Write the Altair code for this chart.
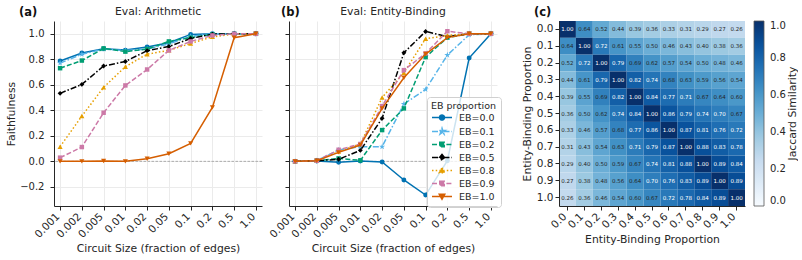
import altair as alt
import pandas as pd

FONT = "DejaVu Sans"
INK = "#262626"
GRID = "#ebebeb"
TICK_FS = 10
XTICK_FS = 10.5
TITLE_FS = 10.8

# Plot-area geometry (pixels)
PANEL_W = 208
HEAT_W = 186
PANEL_H = 185
GAP = 27
SPACER_W = 8

# Circuit sizes (fraction of edges kept), shown as evenly spaced categories
CIRCUIT_SIZES = ["0.001", "0.002", "0.005", "0.01", "0.02", "0.05", "0.1", "0.2", "0.5", "1.0"]
Y_TICKS = [-0.2, 0.0, 0.2, 0.4, 0.6, 0.8, 1.0]

EB_LABELS = ["EB=0.0", "EB=0.1", "EB=0.2", "EB=0.5", "EB=0.8", "EB=0.9", "EB=1.0"]
EB_COLORS = ["#0072B2", "#56B4E9", "#009E73", "#000000", "#E69F00", "#CC79A7", "#D55E00"]

# Faithfulness, evaluated on arithmetic prompts
arith_eb00 = [0.786, 0.849, 0.883, 0.872, 0.896, 0.930, 0.995, 1.000, 1.000, 1.000]
arith_eb01 = [0.770, 0.840, 0.880, 0.868, 0.880, 0.920, 0.980, 1.000, 1.000, 1.000]
arith_eb02 = [0.730, 0.790, 0.885, 0.860, 0.880, 0.940, 0.970, 0.995, 1.000, 1.000]
arith_eb05 = [0.533, 0.603, 0.747, 0.783, 0.867, 0.900, 0.963, 0.997, 1.000, 1.000]
arith_eb08 = [0.115, 0.355, 0.580, 0.742, 0.840, 0.870, 0.924, 0.976, 0.997, 1.000]
arith_eb09 = [0.029, 0.112, 0.381, 0.595, 0.720, 0.870, 0.940, 0.987, 1.000, 1.000]
arith_eb10 = [0.000, 0.000, 0.003, 0.000, 0.020, 0.060, 0.141, 0.423, 0.969, 1.000]

# Faithfulness, evaluated on entity-binding prompts
bind_eb00 = [0.000, 0.003, -0.008, 0.003, -0.005, -0.146, -0.264, 0.005, 0.810, 1.000]
bind_eb01 = [0.000, 0.005, 0.089, 0.115, 0.115, 0.449, 0.564, 0.833, 0.992, 1.000]
bind_eb02 = [0.000, 0.005, 0.023, 0.008, 0.245, 0.415, 0.817, 0.970, 1.000, 1.000]
bind_eb05 = [0.000, 0.005, 0.016, 0.086, 0.337, 0.851, 1.018, 0.977, 1.000, 1.000]
bind_eb08 = [0.000, 0.005, 0.076, 0.136, 0.500, 0.695, 0.961, 0.987, 1.000, 1.000]
bind_eb09 = [0.000, 0.005, 0.091, 0.136, 0.433, 0.715, 0.846, 1.020, 1.000, 1.000]
bind_eb10 = [0.000, 0.005, 0.070, 0.128, 0.415, 0.655, 0.841, 0.970, 1.000, 1.000]

# Jaccard similarity between circuits found at each entity-binding proportion
EB_PROPS = ["0.0", "0.1", "0.2", "0.3", "0.4", "0.5", "0.6", "0.7", "0.8", "0.9", "1.0"]
jac_00 = [1.00, 0.64, 0.52, 0.44, 0.39, 0.36, 0.33, 0.31, 0.29, 0.27, 0.26]
jac_01 = [0.64, 1.00, 0.72, 0.61, 0.55, 0.50, 0.46, 0.43, 0.40, 0.38, 0.36]
jac_02 = [0.52, 0.72, 1.00, 0.79, 0.69, 0.62, 0.57, 0.54, 0.50, 0.48, 0.46]
jac_03 = [0.44, 0.61, 0.79, 1.00, 0.82, 0.74, 0.68, 0.63, 0.59, 0.56, 0.54]
jac_04 = [0.39, 0.55, 0.69, 0.82, 1.00, 0.84, 0.77, 0.71, 0.67, 0.64, 0.60]
jac_05 = [0.36, 0.50, 0.62, 0.74, 0.84, 1.00, 0.86, 0.79, 0.74, 0.70, 0.67]
jac_06 = [0.33, 0.46, 0.57, 0.68, 0.77, 0.86, 1.00, 0.87, 0.81, 0.76, 0.72]
jac_07 = [0.31, 0.43, 0.54, 0.63, 0.71, 0.79, 0.87, 1.00, 0.88, 0.83, 0.78]
jac_08 = [0.29, 0.40, 0.50, 0.59, 0.67, 0.74, 0.81, 0.88, 1.00, 0.89, 0.84]
jac_09 = [0.27, 0.38, 0.48, 0.56, 0.64, 0.70, 0.76, 0.83, 0.89, 1.00, 0.89]
jac_10 = [0.26, 0.36, 0.46, 0.54, 0.60, 0.67, 0.72, 0.78, 0.84, 0.89, 1.00]
JACCARD = [jac_00, jac_01, jac_02, jac_03, jac_04, jac_05, jac_06, jac_07, jac_08, jac_09, jac_10]

# matplotlib "Blues" colour stops
BLUES_STOPS = [0.0, 0.125, 0.25, 0.375, 0.5, 0.625, 0.75, 0.875, 1.0]
BLUES = ["#f7fbff", "#deebf7", "#c6dbef", "#9ecae1", "#6baed6", "#4292c6", "#2171b5", "#08519c", "#08306b"]

# Line and marker styles per series
STAR = ("M0,-1L0.223,-0.307L0.951,-0.309L0.361,0.117L0.588,0.809L0,0.38"
        "L-0.588,0.809L-0.361,0.117L-0.951,-0.309L-0.223,-0.307Z")
EB_DASHES = [[1, 0], [6, 2, 1.5, 2], [5, 2.2], [6, 2, 1.5, 2], [1.5, 2.2], [5, 2.2], [1, 0]]
EB_SHAPES = ["circle", STAR, "square", "diamond", "triangle-up", "square", "triangle-down"]
EB_SIZES = [24, 42, 20, 24, 26, 20, 26]

# Legend glyphs: a short line segment with the marker in its middle
SEG = "M-1,0H3"
LEGEND_GLYPHS = [
    SEG + "M0.5,0A0.5,0.5,0,1,1,1.5,0A0.5,0.5,0,1,1,0.5,0Z",
    SEG + "M1,-0.65L1.145,-0.2L1.618,-0.201L1.235,0.076L1.382,0.526L1,0.247"
          "L0.618,0.526L0.765,0.076L0.382,-0.201L0.855,-0.2Z",
    SEG + "M0.55,-0.45H1.45V0.45H0.55Z",
    SEG + "M1,-0.6L1.5,0L1,0.6L0.5,0Z",
    SEG + "M1,-0.55L1.55,0.45L0.45,0.45Z",
    SEG + "M0.55,-0.45H1.45V0.45H0.55Z",
    SEG + "M1,0.55L1.55,-0.45L0.45,-0.45Z",
]

# Legends are placed in the coordinates of the first panel's plot area
B_LEFT = PANEL_W + GAP
C_LEFT = 2 * PANEL_W + 3 * GAP + SPACER_W


def text_layer(text, dx, dy, bold=True, size=11.5, angle=0, align="left"):
    return alt.Chart(pd.DataFrame({"t": [text]})).mark_text(
        align=align, baseline="middle", font=FONT, fontSize=size, angle=angle,
        fontWeight="bold" if bold else "normal", color="#111111" if bold else INK,
    ).encode(text="t:N", x=alt.value(dx), y=alt.value(dy))


def faithfulness_panel(series, title, tag, tag_dx, first):
    x_axis = alt.Axis(
        title="Circuit Size (fraction of edges)", labelAngle=-45, labelAlign="right",
        labelBaseline="top", labelPadding=1, labelOffset=-6, tickSize=4, grid=True,
        gridColor=GRID, titlePadding=3, labelFontSize=XTICK_FS, titleFontSize=TITLE_FS,
    )
    y_axis = alt.Axis(
        title="Faithfulness" if first else "", labels=first, values=Y_TICKS,
        labelExpr="replace(format(datum.value, '.1f'), '-', '\u2212')",
        tickSize=4, labelPadding=6, titlePadding=3, grid=True, gridColor=GRID,
        labelFontSize=TICK_FS, titleFontSize=TITLE_FS,
    )
    x = alt.X("size:O", sort=CIRCUIT_SIZES,
              scale=alt.Scale(type="point", padding=0.28, domain=CIRCUIT_SIZES), axis=x_axis)
    y = alt.Y("val:Q", scale=alt.Scale(domain=[-0.35, 1.1], nice=False, zero=False), axis=y_axis)

    layers = [
        alt.Chart(pd.DataFrame({"val": [0.0]})).mark_rule(
            color="#9a9a9a", strokeWidth=0.8, strokeDash=[2.5, 1.5]
        ).encode(y=y)
    ]
    for lab, vals, color, dash, shape, size in zip(
        EB_LABELS, series, EB_COLORS, EB_DASHES, EB_SHAPES, EB_SIZES
    ):
        df = pd.DataFrame({"size": CIRCUIT_SIZES, "val": vals, "eb": lab})
        base = alt.Chart(df).encode(x=x, y=y)
        line_kw = dict(color=color, strokeWidth=1.5)
        if dash != [1, 0]:
            line_kw["strokeDash"] = dash
        layers.append(base.mark_line(**line_kw))
        layers.append(base.mark_point(shape=shape, size=size, filled=True, opacity=1,
                                      color=color, strokeWidth=0.5))

    if not first:
        leg = dict(
            title="EB proportion", orient="none", legendX=B_LEFT + 138, legendY=76,
            symbolSize=100, symbolStrokeWidth=1.5, symbolOpacity=1, labelOffset=16,
            labelFontSize=9.5, titleFontSize=9.5, titleFontWeight="normal",
            padding=4, rowPadding=1, titlePadding=1,
            fillColor="rgba(255,255,255,0.8)", strokeColor="#d0d0d0", cornerRadius=3,
        )
        legend_df = pd.DataFrame({"eb": EB_LABELS})
        layers.append(
            alt.Chart(legend_df).mark_point(opacity=0).encode(
                fill=alt.Fill("eb:N", scale=alt.Scale(domain=EB_LABELS, range=EB_COLORS),
                              legend=alt.Legend(**leg)),
                stroke=alt.Stroke("eb:N", scale=alt.Scale(domain=EB_LABELS, range=EB_COLORS),
                                  legend=alt.Legend(**leg)),
                shape=alt.Shape("eb:N", scale=alt.Scale(domain=EB_LABELS, range=LEGEND_GLYPHS),
                                legend=alt.Legend(**leg)),
                strokeDash=alt.StrokeDash("eb:N", scale=alt.Scale(domain=EB_LABELS, range=EB_DASHES),
                                          legend=alt.Legend(**leg)),
            )
        )
    layers.append(text_layer(tag, tag_dx, -8))

    return alt.layer(*layers).properties(
        width=PANEL_W, height=PANEL_H,
        title=alt.Title(title, fontSize=TITLE_FS, fontWeight="normal", font=FONT, color=INK,
                        offset=-10, frame="group", anchor="middle"),
    )


panel_a = faithfulness_panel(
    [arith_eb00, arith_eb01, arith_eb02, arith_eb05, arith_eb08, arith_eb09, arith_eb10],
    "Eval: Arithmetic", "(a)", -35, True,
)
panel_b = faithfulness_panel(
    [bind_eb00, bind_eb01, bind_eb02, bind_eb05, bind_eb08, bind_eb09, bind_eb10],
    "Eval: Entity-Binding", "(b)", -8, False,
)

# Heatmap of circuit overlap
heat_df = pd.DataFrame(
    [{"row": r, "col": c, "v": JACCARD[i][j]}
     for i, r in enumerate(EB_PROPS) for j, c in enumerate(EB_PROPS)]
)
hx = alt.X("col:O", sort=EB_PROPS, scale=alt.Scale(paddingInner=0, paddingOuter=0),
           axis=alt.Axis(title="Entity-Binding Proportion", labelAngle=-45, labelAlign="right",
                         labelBaseline="top", labelPadding=1, labelOffset=-6, tickSize=4,
                         titlePadding=3, labelFontSize=XTICK_FS, titleFontSize=TITLE_FS))
hy = alt.Y("row:O", sort=EB_PROPS, scale=alt.Scale(paddingInner=0, paddingOuter=0),
           axis=alt.Axis(title="Entity-Binding Proportion", tickSize=4, labelPadding=2,
                         titlePadding=4, labelFontSize=XTICK_FS, titleFontSize=TITLE_FS))

colorbar = alt.Legend(
    title="", orient="none", legendX=C_LEFT + HEAT_W + 9, legendY=0,
    direction="vertical", padding=0, titlePadding=0, titleFontSize=1,
    gradientLength=PANEL_H, gradientThickness=10,
    values=[0.0, 0.2, 0.4, 0.6, 0.8, 1.0], format=".1f",
    labelFontSize=TICK_FS, labelOffset=6, labelBaseline="middle",
    gradientStrokeColor="#555555", gradientStrokeWidth=0.8,
)

heat_base = alt.Chart(heat_df).encode(x=hx, y=hy)
cells = heat_base.mark_rect().encode(
    color=alt.Color("v:Q",
                    scale=alt.Scale(domain=BLUES_STOPS, range=BLUES, interpolate="rgb"),
                    legend=colorbar)
)
cell_text = heat_base.mark_text(font=FONT, fontSize=5.5).encode(
    text=alt.Text("v:Q", format=".2f"),
    color=alt.condition(alt.datum.v >= 0.7, alt.value("white"), alt.value(INK)),
)
panel_c = alt.layer(
    cells, cell_text,
    text_layer("(c)", -25, -8),
    text_layer("Jaccard Similarity", 234, PANEL_H / 2, bold=False, size=TITLE_FS, angle=270,
               align="center"),
).properties(width=HEAT_W, height=PANEL_H)

spacer = alt.Chart(pd.DataFrame({"s": [0]})).mark_point(opacity=0).properties(
    width=SPACER_W, height=PANEL_H
)

chart = alt.hconcat(
    panel_a, panel_b, spacer, panel_c, spacing=GAP, bounds="flush"
).properties(
    padding={"left": 5, "top": 6, "right": 0, "bottom": 0}
).configure_view(
    strokeWidth=0
).configure_axis(
    labelFont=FONT, titleFont=FONT, labelColor=INK, titleColor=INK,
    tickColor=INK, domainColor=INK, titleFontWeight="normal",
).configure_legend(
    labelFont=FONT, titleFont=FONT, labelColor=INK, titleColor=INK,
)

chart.save("out.html", embed_options={"renderer": "svg", "actions": False})
